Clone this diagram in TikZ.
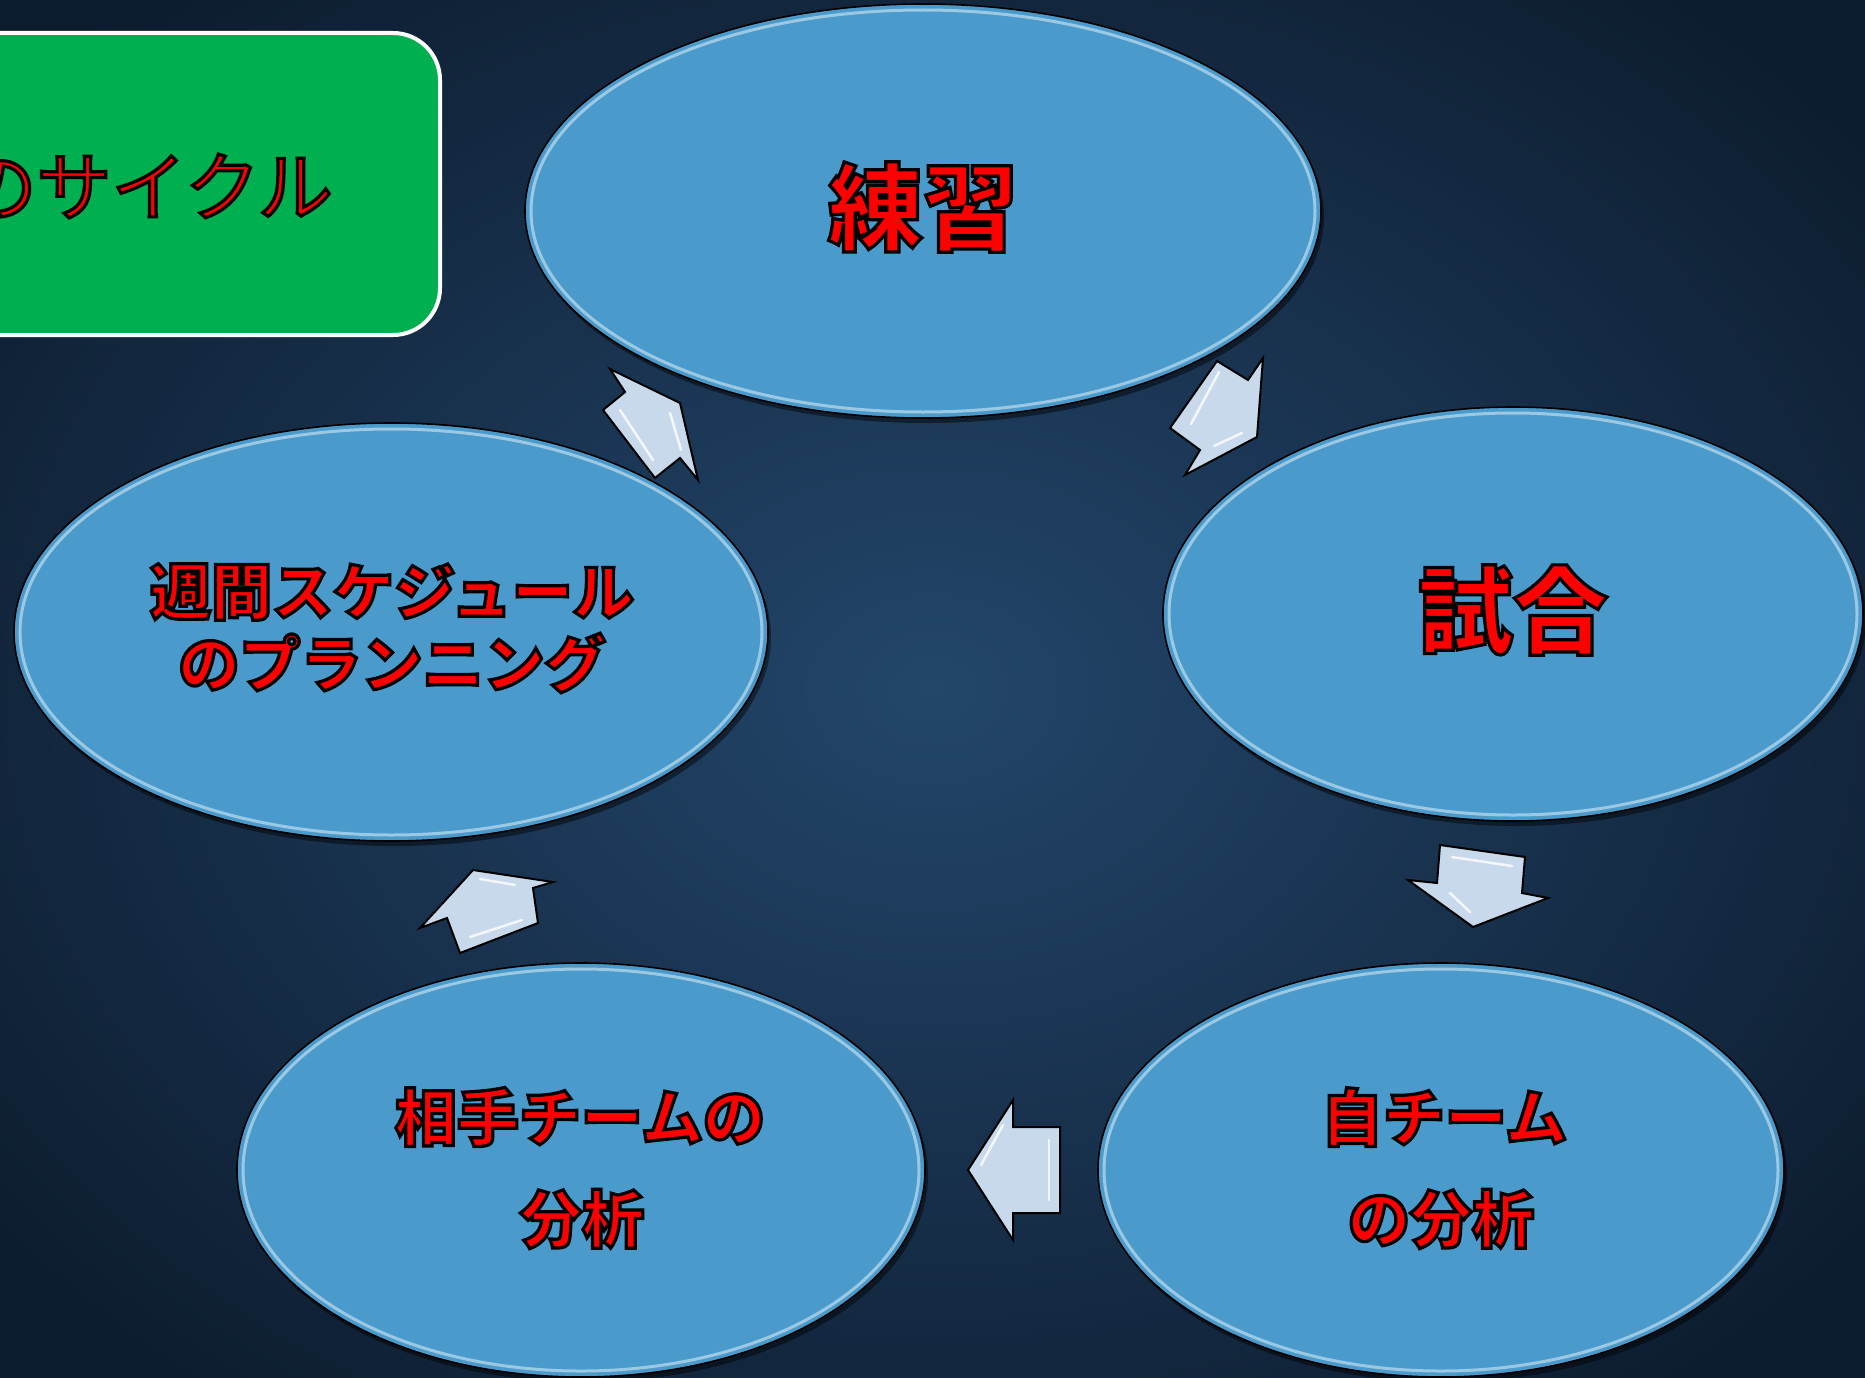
\documentclass[tikz,border=0pt]{standalone}
\usepackage{fontspec}
\newfontfamily\jp{Noto Sans CJK JP}
\usetikzlibrary{shapes.geometric}
\definecolor{bgin}{HTML}{23466B}
\definecolor{bgout}{HTML}{0C1B2D}
\definecolor{ellfill}{HTML}{4A9BCC}
\definecolor{arrfill}{HTML}{C7D9EB}
\definecolor{boxgreen}{HTML}{00B050}
\definecolor{txtred}{HTML}{FF0000}
\newcommand\otxt[1]{\special{pdf:literal direct q 2 Tr 3.2 w 0 0 0 RG}#1\special{pdf:literal direct Q}}
\tikzset{
  ellshape/.style={ellipse, draw=black, line width=1.6, fill=ellfill, inner sep=0},
  glow/.style={draw=white, opacity=.45, line width=3},
  shadowfill/.style={fill=black, opacity=.45},
  lbl/.style={text=txtred, inner sep=0, align=center},
  blockarrow/.style={fill=arrfill, draw=black, line width=2, line join=miter},
  hilite/.style={draw=white, line width=2.5, opacity=.8, line cap=round}
}
\newcommand\ellbox[5]{%
  \fill[shadowfill] (#2+3,#3+5) ellipse ({#4} and {#5});
  \node[ellshape, minimum width=2*#4, minimum height=2*#5] (#1) at (#2,#3) {};
  \draw[glow] (#2,#3) ellipse ({#4-6} and {#5-6});
}
\begin{document}
\begin{tikzpicture}[x=1pt,y=-1pt]
\useasboundingbox (0,0) rectangle (1865,1378);
\clip (0,0) rectangle (1865,1378);
\shade[inner color=bgin, outer color=bgout] (-300,-250) rectangle (2165,1628);

% title box
\node[draw=white, line width=4, fill=boxgreen, rounded corners=47, minimum width=520, minimum height=302, inner sep=0] (title) at (180,184) {};
\node[lbl, anchor=east, font=\jp\fontsize{75}{80}\selectfont] (ttext) at (333,186) {\otxt{のサイクル}};

% ellipses
\ellbox{A}{923}{211}{398}{207}
\ellbox{B}{1513}{614}{350}{207}
\ellbox{C}{1441}{1170}{343}{207}
\ellbox{D}{581}{1170}{344}{207}
\ellbox{E}{391}{632}{377}{209}

% texts
\node[lbl, font=\jp\bfseries\fontsize{95}{100}\selectfont] (tA) at (923,207) {\otxt{練習}};
\node[lbl, font=\jp\bfseries\fontsize{95}{100}\selectfont] (tB) at (1513,610) {\otxt{試合}};
\node[lbl, font=\jp\bfseries\fontsize{61}{73}\selectfont] (tE1) at (392,592) {\otxt{週間スケジュール}};
\node[lbl, font=\jp\bfseries\fontsize{61}{73}\selectfont] (tE2) at (392,663) {\otxt{のプランニング}};
\node[lbl, font=\jp\bfseries\fontsize{62}{73}\selectfont] (tC1) at (1444,1117) {\otxt{自チーム}};
\node[lbl, font=\jp\bfseries\fontsize{62}{73}\selectfont] (tC2) at (1441,1219) {\otxt{の分析}};
\node[lbl, font=\jp\bfseries\fontsize{62}{73}\selectfont] (tD1) at (580,1117) {\otxt{相手チームの}};
\node[lbl, font=\jp\bfseries\fontsize{62}{73}\selectfont] (tD2) at (582,1219) {\otxt{分析}};

% block arrows
% E -> A
\draw[blockarrow] (610,369) -- (680,403) -- (698,480) -- (680,458) -- (655,478) -- (603,410) -- (625,392) -- cycle;
\draw[hilite] (620,410) -- (653,460);
\draw[hilite] (670,413) -- (681,450);
% A -> B
\draw[blockarrow] (1217,361) -- (1248,380) -- (1263,358) -- (1257,437) -- (1185,475) -- (1200,450) -- (1170,428) -- cycle;
\draw[hilite] (1219,372) -- (1191,424);
\draw[hilite] (1214,446) -- (1242,433);
% B -> C
\draw[blockarrow] (1440,845) -- (1525,857) -- (1522,893) -- (1548,898) -- (1473,927) -- (1408,880) -- (1437,883) -- cycle;
\draw[hilite] (1452,857) -- (1512,866);
\draw[hilite] (1450,893) -- (1470,912);
% C -> D
\draw[blockarrow] (1013,1100) -- (1013,1127) -- (1060,1127) -- (1060,1213) -- (1013,1213) -- (1013,1240) -- (968,1170) -- cycle;
\draw[hilite] (1049,1140) -- (1049,1200);
\draw[hilite] (1003,1125) -- (981,1165);
% D -> E
\draw[blockarrow] (473,870) -- (553,882) -- (533,888) -- (538,923) -- (460,953) -- (447,918) -- (420,928) -- cycle;
\draw[hilite] (480,879) -- (515,885);
\draw[hilite] (470,937) -- (522,920);
\end{tikzpicture}
\end{document}
